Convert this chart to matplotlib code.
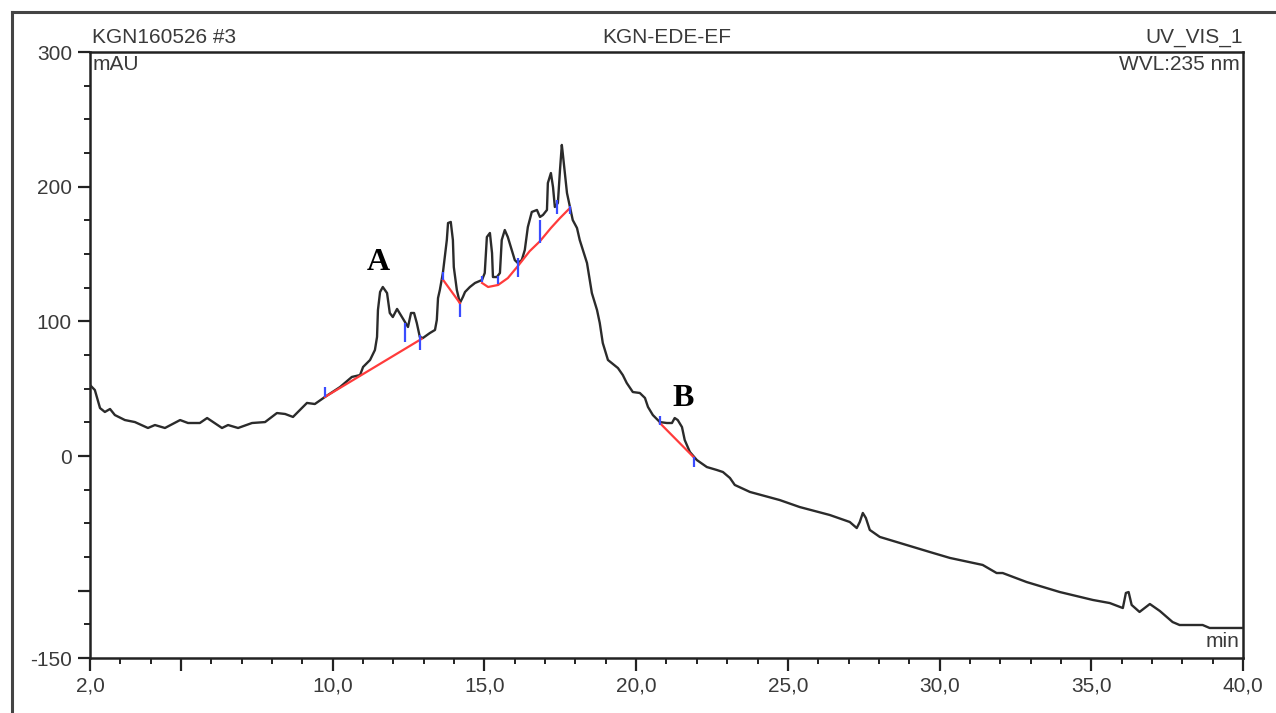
import matplotlib
matplotlib.use("Agg")
import matplotlib.pyplot as plt
from matplotlib.lines import Line2D

# ---- data (retention time in min, absorbance in mAU) ----
time_min = [2.00, 2.16, 2.33, 2.49, 2.66, 2.82, 3.15, 3.48, 3.91, 4.14, 4.47, 4.97, 5.23,
            5.62, 5.86, 6.35, 6.55, 6.88, 7.34, 7.77, 8.16, 8.43, 8.69, 9.15, 9.41, 9.74,
            10.24, 10.63, 10.90, 11.00, 11.23, 11.39, 11.46, 11.49, 11.56, 11.65, 11.79,
            11.88, 11.98, 12.12, 12.28, 12.38, 12.48, 12.58, 12.68, 12.77, 12.87, 12.97,
            13.20, 13.37, 13.43, 13.47, 13.53, 13.63, 13.76, 13.80, 13.89, 13.96, 13.99,
            14.09, 14.19, 14.29, 14.36, 14.52, 14.69, 14.92, 15.01, 15.08, 15.18, 15.25,
            15.28, 15.41, 15.51, 15.57, 15.67, 15.77, 15.90, 16.00, 16.10, 16.23, 16.33,
            16.43, 16.56, 16.73, 16.83, 16.93, 17.06, 17.09, 17.19, 17.26, 17.32, 17.42,
            17.49, 17.55, 17.58, 17.65, 17.72, 17.82, 17.91, 18.05, 18.14, 18.38, 18.54,
            18.71, 18.80, 18.90, 19.07, 19.40, 19.56, 19.69, 19.89, 20.12, 20.29, 20.39,
            20.55, 20.78, 21.01, 21.18, 21.27, 21.37, 21.51, 21.60, 21.77, 22.00, 22.33,
            22.66, 22.86, 23.09, 23.25, 23.75, 24.73, 25.39, 26.38, 27.04, 27.27, 27.37,
            27.47, 27.57, 27.70, 28.03, 28.69, 29.68, 30.34, 31.42, 31.88, 32.08, 32.87,
            33.96, 35.05, 35.61, 36.04, 36.14, 36.23, 36.33, 36.59, 36.93, 37.26, 37.68,
            37.91, 38.67, 38.90, 40.00]
signal_mau = [52.7, 49.0, 35.6, 32.7, 34.9, 30.4, 26.7, 25.2, 20.8, 23.0, 20.8, 26.7, 24.5,
              24.5, 28.2, 20.8, 23.0, 20.8, 24.5, 25.2, 31.9, 31.2, 29.0, 39.4, 38.6, 43.8,
              51.2, 58.7, 60.1, 66.1, 71.3, 78.7, 88.4, 108.4, 121.8, 125.5, 121.0,
              106.2, 103.2, 109.2, 103.2, 99.5, 95.8, 106.2, 106.2, 98.8, 88.4, 87.6,
              91.3, 93.6, 101.0, 117.3, 123.3, 135.9, 160.4, 173.0, 173.8, 160.4, 140.3,
              123.3, 113.6, 118.1, 121.8, 125.5, 128.5, 130.7, 135.9, 162.6, 165.6, 150.7,
              132.9, 132.9, 135.9, 160.4, 167.8, 162.6, 153.0, 145.5, 143.3, 145.5, 153.0,
              170.0, 181.2, 182.7, 177.5, 179.0, 182.7, 202.7, 210.1, 199.7, 184.9, 187.9,
              212.4, 231.0, 225.0, 210.1, 195.3, 184.9, 175.2, 169.3, 160.4, 143.3, 121.0,
              108.4, 98.8, 83.9, 71.3, 65.3, 60.1, 54.2, 47.5, 46.8, 43.1, 36.4,
              30.4, 25.2, 24.5, 24.5, 28.2, 26.7, 21.5, 11.9, 3.0, -3.0, -8.2,
              -10.4, -11.9, -16.3, -21.5, -26.7, -32.7, -37.9, -43.8, -49.0, -53.5, -49.0,
              -42.3, -46.0, -54.9, -60.1, -64.6, -71.3, -75.7, -80.9, -86.9, -86.9, -93.6,
              -101.0, -106.9, -109.2, -112.9, -101.7, -101.0, -110.6, -115.8, -109.9, -115.1, -123.3,
              -125.5, -125.5, -127.7, -127.7]

# integration baselines (red)
base1_t = [9.74, 12.93]
base1_y = [43.8, 87.0]
base2_t = [13.63, 14.19]
base2_y = [131.0, 113.6]
base3_t = [14.92, 15.12, 15.45, 15.77, 16.10, 16.49, 16.83, 17.19, 17.49, 17.82]
base3_y = [128.5, 125.5, 127.0, 132.1, 141.0, 152.1, 159.5, 169.3, 176.7, 184.2]
base4_t = [20.78, 21.90]
base4_y = [24.5, -1.0]

# peak delimiter markers (blue)
mark_t = [9.74, 12.38, 12.87, 13.63, 14.19, 14.92, 15.44, 16.10, 16.83, 17.39, 17.82, 20.78, 21.90]
mark_lo = [44, 85, 79, 131, 103, 129, 128, 133, 158, 180, 180, 23, -8]
mark_hi = [51, 99, 90, 137, 113, 134, 134, 147, 175, 190, 186, 30, -1]

# peak labels
label_txt = ["A", "B"]
label_t = [11.49, 21.54]
label_y = [144.0, 43.0]

x_major = [2, 5, 10, 15, 20, 25, 30, 35, 40]
x_labels = ["2,0", "", "10,0", "15,0", "20,0", "25,0", "30,0", "35,0", "40,0"]
y_major = [-150, -100, 0, 100, 200, 300]
y_labels = ["-150", "", "0", "100", "200", "300"]

plt.rcParams['font.family'] = ['Liberation Sans', 'DejaVu Sans']

fig = plt.figure(figsize=(12.76, 7.13), dpi=100)
ax = fig.add_axes([90/1276, 1 - 658/713, (1243 - 90)/1276, (658 - 52)/713])

ax.plot(time_min, signal_mau, color='#2b2b2b', lw=1.7, zorder=3)
for bt, by in [(base1_t, base1_y), (base2_t, base2_y), (base3_t, base3_y), (base4_t, base4_y)]:
    ax.plot(bt, by, color='#ff3b3b', lw=1.6, zorder=4)
ax.vlines(mark_t, mark_lo, mark_hi, color='#3a4cff', lw=1.6, zorder=5)

for s, t, y in zip(label_txt, label_t, label_y):
    ax.text(t, y, s, family=['Liberation Serif', 'DejaVu Serif'], fontweight='bold',
            fontsize=23, ha='center', va='center', color='black', zorder=6)

ax.set_xlim(2, 40)
ax.set_ylim(-150, 300)
ax.set_xticks(x_major)
ax.set_xticklabels(x_labels)
ax.set_xticks(range(2, 41), minor=True)
ax.set_yticks(y_major)
ax.set_yticklabels(y_labels)
ax.set_yticks(range(-150, 301, 25), minor=True)

for sp in ax.spines.values():
    sp.set_color('#222222')
    sp.set_linewidth(1.8)
ax.tick_params(which='major', direction='out', length=9, width=1.6, color='#222222',
               labelsize=15, labelcolor='#3a3a3a', pad=4)
ax.tick_params(which='minor', direction='out', length=4, width=1.4, color='#222222')

tc = '#3a3a3a'
ax.text(0.002, 1.008, "KGN160526 #3", transform=ax.transAxes, ha='left', va='bottom',
        fontsize=15, color=tc)
ax.text(0.5, 1.008, "KGN-EDE-EF", transform=ax.transAxes, ha='center', va='bottom',
        fontsize=15, color=tc)
ax.text(1.0, 1.008, "UV_VIS_1", transform=ax.transAxes, ha='right', va='bottom',
        fontsize=15, color=tc)
ax.text(0.002, 0.995, "mAU", transform=ax.transAxes, ha='left', va='top',
        fontsize=15, color=tc)
ax.text(0.997, 0.995, "WVL:235 nm", transform=ax.transAxes, ha='right', va='top',
        fontsize=15, color=tc)
ax.text(0.997, 0.012, "min", transform=ax.transAxes, ha='right', va='bottom',
        fontsize=15, color=tc)

# outer frame (top and left edges)
fig.add_artist(Line2D([12/1276, 12/1276], [0, 1 - 12/713], transform=fig.transFigure,
                      color='#444444', lw=2.2))
fig.add_artist(Line2D([12/1276, 1], [1 - 12/713, 1 - 12/713], transform=fig.transFigure,
                      color='#444444', lw=2.2))

fig.savefig("out.png", dpi=100, facecolor='white')
